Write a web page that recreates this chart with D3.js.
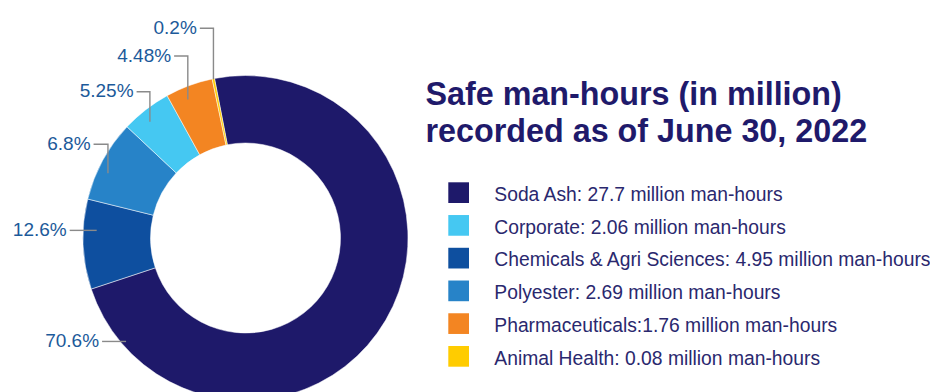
<!DOCTYPE html>
<html>
<head>
<meta charset="utf-8">
<script src="https://cdn.jsdelivr.net/npm/d3@7"></script>
<style>
  html, body { margin: 0; padding: 0; background: #fff; }
  svg { display: block; }
</style>
</head>
<body>
<svg id="chart" width="930" height="392"></svg>
<script>
// ---- data (legend order) ----
const categories = ["Soda Ash", "Corporate", "Chemicals & Agri Sciences", "Polyester", "Pharmaceuticals", "Animal Health"];
const manHours   = [27.7, 2.06, 4.95, 2.69, 1.76, 0.08];
const legendTexts = [
  "Soda Ash: 27.7 million man-hours",
  "Corporate: 2.06 million man-hours",
  "Chemicals & Agri Sciences: 4.95 million man-hours",
  "Polyester: 2.69 million man-hours",
  "Pharmaceuticals:1.76 million man-hours",
  "Animal Health: 0.08 million man-hours"
];
const pctLabels  = ["70.6%", "5.25%", "12.6%", "6.8%", "4.48%", "0.2%"];
// slice shares as drawn in the picture (%)
const sliceShares = [72.97, 5.0, 8.94, 8.14, 4.72, 0.23];
// clockwise drawing order of the ring
const ringOrder = ["Soda Ash", "Chemicals & Agri Sciences", "Polyester", "Corporate", "Pharmaceuticals", "Animal Health"];

// ---- styles / layout ----
const colors = {
  "Soda Ash": "#1e196a",
  "Corporate": "#45c8f2",
  "Chemicals & Agri Sciences": "#0e4f9f",
  "Polyester": "#2783c8",
  "Pharmaceuticals": "#f38522",
  "Animal Health": "#ffcc00"
};
const labelLayout = {
  "Soda Ash":                  { frac: 0.914, r: 158,   elbowY: null,  len: 24 },
  "Chemicals & Agri Sciences": { frac: 0.66,  r: 149,   elbowY: null,  len: 27 },
  "Polyester":                 { frac: 0.386, r: 152,   elbowY: 144.3, len: 14.4 },
  "Corporate":                 { frac: 0.41,  r: 150.5, elbowY: 91.7,  len: 13.3 },
  "Pharmaceuticals":           { frac: 0.365, r: 150,   elbowY: 56,    len: 13.7 },
  "Animal Health":             { frac: 0.5,   r: 162,   elbowY: 28.3,  len: 13.6 }
};

const cx = 245.5, cy = 238, outerR = 162.5, innerR = 95;
const startDeg = -11;

const svg = d3.select("#chart");
const rows = categories.map((c, i) => ({ name: c, hours: manHours[i], share: sliceShares[i], pct: pctLabels[i], legend: legendTexts[i] }));
const ringData = ringOrder.map(n => rows.find(r => r.name === n));

const start = startDeg * Math.PI / 180;
const pie = d3.pie().sort(null).value(d => d.share).startAngle(start).endAngle(start + 2 * Math.PI);
const arc = d3.arc().innerRadius(innerR).outerRadius(outerR);
const arcs = pie(ringData);

const g = svg.append("g").attr("transform", `translate(${cx},${cy})`);
g.selectAll("path").data(arcs).join("path")
  .attr("d", arc)
  .attr("fill", d => colors[d.data.name])
  .attr("stroke", "#ffffff")
  .attr("stroke-width", 0.5);

// ---- percentage labels with leader lines ----
const lab = svg.append("g");
arcs.forEach(a => {
  const L = labelLayout[a.data.name];
  const ang = a.startAngle + (a.endAngle - a.startAngle) * L.frac;
  const ax = cx + L.r * Math.sin(ang);
  const ay = cy - L.r * Math.cos(ang);
  const ly = L.elbowY == null ? ay : L.elbowY;
  const pts = L.elbowY == null ? [[ax, ay], [ax - L.len, ay]] : [[ax, ay], [ax, ly], [ax - L.len, ly]];
  lab.append("path")
    .attr("d", d3.line()(pts))
    .attr("fill", "none")
    .attr("stroke", "#8a8a8a")
    .attr("stroke-width", 1.4);
  lab.append("text")
    .attr("x", ax - L.len - 3)
    .attr("y", ly + 5.5)
    .attr("text-anchor", "end")
    .attr("font-family", "Liberation Sans, Arial, sans-serif")
    .attr("font-size", 19)
    .attr("fill", "#1c5a9a")
    .text(a.data.pct);
});

// ---- title ----
const title = svg.append("text")
  .attr("font-family", "Liberation Sans, Arial, sans-serif")
  .attr("font-weight", "bold")
  .attr("font-size", 32.3)
  .attr("fill", "#1f1a6b");
title.append("tspan").attr("x", 425.5).attr("y", 105).text("Safe man-hours (in million)");
title.append("tspan").attr("x", 425.5).attr("y", 142).text("recorded as of June 30, 2022");

// ---- legend ----
const legendY = d3.scalePoint().domain(categories).range([182.3, 346]);
const leg = svg.append("g");
rows.forEach(r => {
  const y = legendY(r.name);
  leg.append("rect")
    .attr("x", 448.3).attr("y", y)
    .attr("width", 20.7).attr("height", 20.7)
    .attr("fill", colors[r.name]);
  leg.append("text")
    .attr("x", 494.3).attr("y", y + 18.5)
    .attr("font-family", "Liberation Sans, Arial, sans-serif")
    .attr("font-size", 19.3)
    .attr("fill", "#2a286e")
    .text(r.legend);
});
</script>
</body>
</html>
